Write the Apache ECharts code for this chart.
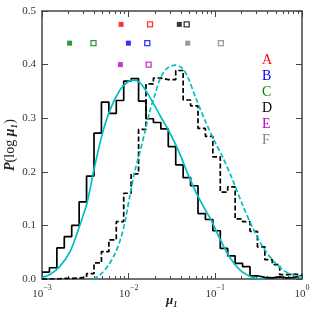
<!DOCTYPE html>
<html><head><meta charset="utf-8">
<script src="https://cdn.jsdelivr.net/npm/echarts@6/dist/echarts.min.js"></script>
<style>html,body{margin:0;padding:0;background:#fff}#c{width:327px;height:314px}</style>
</head><body><div id="c"></div>
<script>
// ---- data ----
const logMin = -3, logMax = 0, nBins = 35;
const solidHist = [0.013,0.021,0.058,0.079,0.100,0.144,0.192,0.272,0.330,0.309,0.333,0.369,0.374,0.332,0.299,0.292,0.280,0.247,0.213,0.189,0.174,0.122,0.111,0.090,0.057,0.043,0.029,0.023,0.006,0.003,0.002,0.004,0.002,0.003,0.006];
const dashedHist = [0,0,0.001,0.001,0.002,0.003,0.010,0.030,0.051,0.073,0.107,0.160,0.196,0.279,0.364,0.375,0.372,0.372,0.389,0.334,0.323,0.281,0.266,0.228,0.162,0.172,0.112,0.107,0.089,0.060,0.036,0.027,0.008,0.009,0.007];
const solidCurveX = [0.00100,0.00125,0.00162,0.00212,0.00269,0.00332,0.00393,0.00491,0.00611,0.00797,0.00967,0.01125,0.01354,0.01687,0.0230,0.0287,0.0374,0.0471,0.0605,0.0759,0.0889,0.1129,0.147,0.1917,0.250,0.301,0.372];
const solidCurveY = [0.003,0.009,0.024,0.052,0.097,0.143,0.200,0.268,0.316,0.353,0.367,0.371,0.366,0.344,0.305,0.278,0.240,0.200,0.160,0.130,0.111,0.075,0.040,0.017,0.005,0.001,0.000];
const dashedCurveX = [0.00390,0.00469,0.00580,0.00698,0.00818,0.00910,0.01039,0.01186,0.01354,0.01546,0.01765,0.0201,0.0230,0.0273,0.0342,0.0412,0.0483,0.0597,0.0779,0.1015,0.1222,0.1592,0.2076,0.2706,0.3527,0.460,0.599,0.781,0.992];
const dashedCurveY = [0.000,0.008,0.025,0.048,0.078,0.108,0.158,0.203,0.238,0.276,0.315,0.344,0.373,0.392,0.399,0.394,0.376,0.337,0.292,0.252,0.227,0.184,0.137,0.095,0.060,0.035,0.017,0.008,0.004];
const markerNames = ['A','B','C','D','E','F'];
const markerColors = ['#ff0000','#0000ff','#008000','#000000','#bf00bf','#808080'];
const markerFilledX = [0.00818,0.00993,0.00208,0.0384,0.00803,0.048];
const markerOpenX   = [0.01765,0.0164,0.00393,0.0467,0.0170,0.1159];
const markerY       = [0.475,0.440,0.440,0.475,0.400,0.440];
const yTicks = [0,0.1,0.2,0.3,0.4,0.5];
const xMajor = [0.001,0.01,0.1,1];

// ---- build ----
const edges = [];
for (let i = 0; i <= nBins; i++) edges.push(Math.pow(10, logMin + (logMax - logMin) * i / nBins));
function stepPts(h){ const p=[]; h.forEach((v,i)=>{p.push([edges[i],v]);p.push([edges[i+1],v]);}); return p; }
const xMinor = [];
for (let d = -3; d < 0; d++) for (let m = 2; m <= 9; m++) xMinor.push(m * Math.pow(10, d));

const axisCol = '#444';
const serif = '"Liberation Serif","DejaVu Serif",serif';
function xAx(pos, ticks, len, showLine, labels){
  return { type:'log', logBase:10, min:0.001, max:1, position:pos, gridIndex:0,
    axisLine:{show:showLine, onZero:false, lineStyle:{color:axisCol,width:1.5}},
    axisTick:{show:true, inside:true, length:len, customValues:ticks, lineStyle:{color:axisCol,width:1}},
    axisLabel:{show:labels, customValues:xMajor, margin:5,
      formatter:v=>{const e=Math.round(Math.log10(v)); return '{b|10}{s|'+(e<0?'\u2212'+(-e):e)+'}';},
      rich:{b:{fontSize:11,fontFamily:serif,color:'#333',lineHeight:16,verticalAlign:'bottom'},
            s:{fontSize:8,fontFamily:serif,color:'#333',lineHeight:16,verticalAlign:'top'}}},
    splitLine:{show:false}, minorTick:{show:false} };
}
const xAxes = [xAx('bottom',xMajor,6,true,true), xAx('bottom',xMinor,3,false,false), xAx('top',xMajor,6,true,false), xAx('top',xMinor,3,false,false)];
xAxes[0].name = '{m|\u03bc\u2081}';
xAxes[0].nameLocation = 'middle';
xAxes[0].nameGap = 15;
xAxes[0].nameMoveOverlap = false;
xAxes[0].nameTextStyle = {rich:{m:{fontSize:13,fontFamily:serif,fontStyle:'italic',fontWeight:'bold',color:'#222'}}};

function yAx(pos, labels){
  return { type:'value', min:0, max:0.5, interval:0.1, position:pos,
    axisLine:{show:true, onZero:false, lineStyle:{color:axisCol,width:1.5}},
    axisTick:{show:true, inside:true, length:6, lineStyle:{color:axisCol,width:1}},
    axisLabel:{show:labels, margin:6, fontSize:11, fontFamily:serif, color:'#333', formatter:v=>v.toFixed(1)},
    splitLine:{show:false} };
}
const yAxes = [yAx('left',true), yAx('right',false)];
yAxes[0].name = '{i|P}{n|(log }{i|\u03bc\u2081}{n|)}';
yAxes[0].nameLocation = 'middle';
yAxes[0].nameRotate = 90;
yAxes[0].nameGap = 25;
yAxes[0].nameMoveOverlap = false;
yAxes[0].nameTextStyle = {rich:{i:{fontSize:14,fontFamily:serif,fontStyle:'italic',fontWeight:'bold',color:'#222'},
                                n:{fontSize:14,fontFamily:serif,color:'#222'}}};

const series = [
  {type:'line', data:stepPts(solidHist), symbol:'none', lineStyle:{color:'#000',width:1.7}, z:3, silent:true},
  {type:'line', data:stepPts(dashedHist), symbol:'none', lineStyle:{color:'#000',width:1.7,type:[5,2.5]}, z:3, silent:true},
  {type:'line', data:solidCurveX.map((x,i)=>[x,solidCurveY[i]]), smooth:0.3, symbol:'none', lineStyle:{color:'#00bfbf',width:1.7}, z:4, silent:true},
  {type:'line', data:dashedCurveX.map((x,i)=>[x,dashedCurveY[i]]), smooth:0.3, symbol:'none', lineStyle:{color:'#00bfbf',width:1.7,type:[5,2.5]}, z:4, silent:true},
  {type:'scatter', symbol:'rect', symbolSize:5, z:5, silent:true,
    data:markerFilledX.map((x,i)=>({value:[x,markerY[i]], itemStyle:{color:markerColors[i]}}))},
  {type:'scatter', symbol:'rect', symbolSize:5, z:5, silent:true,
    data:markerOpenX.map((x,i)=>({value:[x,markerY[i]], itemStyle:{color:'#fff',borderColor:markerColors[i],borderWidth:1.3}}))}
];

const graphics = markerNames.map((n,i)=>({type:'text', left:262, top:53 + i*16.1,
  style:{text:n, fill:markerColors[i], font:'14px '+serif}}));

const chart = echarts.init(document.getElementById('c'), null, {renderer:'canvas'});
chart.setOption({
  animation:false, backgroundColor:'#fff',
  grid:{left:42, right:25, top:11, bottom:35, containLabel:false, outerBoundsMode:'none'},
  xAxis:xAxes, yAxis:yAxes, series:series, graphic:graphics
});
</script></body></html>
